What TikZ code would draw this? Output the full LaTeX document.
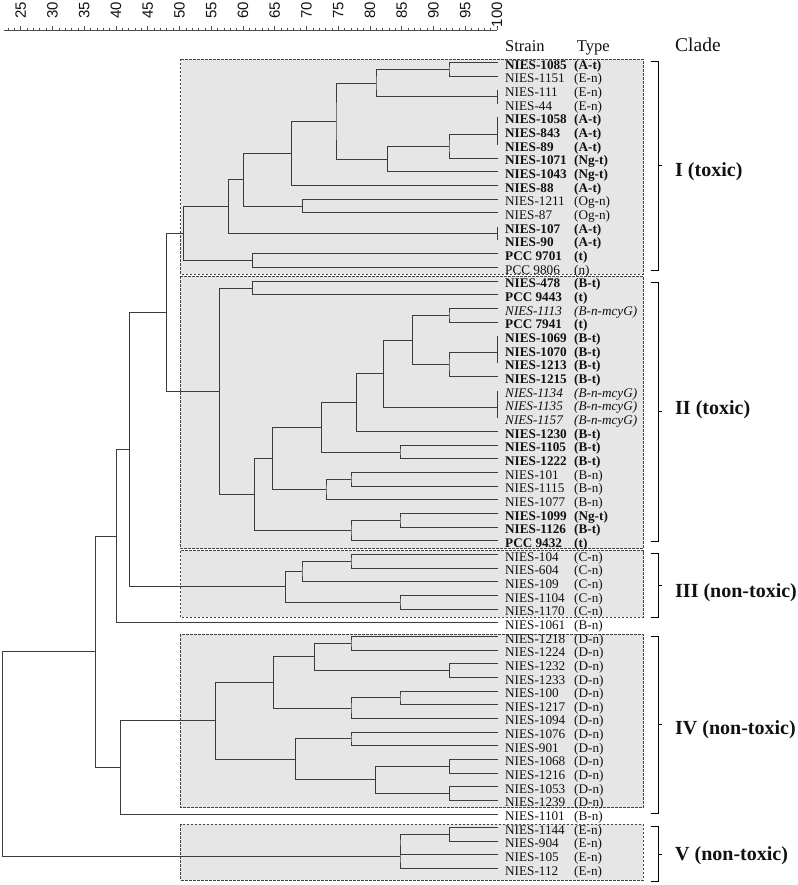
\documentclass[tikz,border=0pt]{standalone}
\usepackage{fontspec}
\setmainfont{Liberation Serif}
\newfontfamily\axfont{Liberation Sans}
\usetikzlibrary{calc}
\definecolor{boxgray}{HTML}{E6E6E6}
\definecolor{treecol}{HTML}{3C3C3C}
\definecolor{dashcol}{HTML}{444444}
\definecolor{txtcol}{HTML}{111111}
\newcommand\lfs{\fontsize{13.2}{15}\selectfont}
\tikzset{
  tree/.style={draw=treecol, line width=1pt},
  cladebox/.style={fill=boxgray, draw=dashcol, line width=0.8pt, dash pattern=on 2.5pt off 1.5pt},
  lab/.style={anchor=base west, inner sep=0pt, text=txtcol, font=\lfs},
  toxlab/.style={lab, font=\lfs\bfseries},
  ntlab/.style={lab},
  mcylab/.style={lab, font=\lfs\itshape},
  head/.style={anchor=base west, inner sep=0pt, text=txtcol, font=\fontsize{16.5}{18}\selectfont},
  cladelab/.style={anchor=west, inner sep=0pt, text=txtcol, font=\fontsize{20}{22}\selectfont\bfseries},
  brk/.style={draw=black, line width=1pt},
  axlab/.style={inner sep=0pt, rotate=90, anchor=east, text=txtcol, font=\axfont\fontsize{15}{15}\selectfont},
  axline/.style={draw=black!70, line width=0.6pt},
}
\newcommand\leaf[4]{%
  \coordinate (l#1) at (497.7,{62.7+13.66*#1});
  \node[#4] (s#1) at (505,{69.3+13.66*#1}) {#2};
  \node[#4] (t#1) at (574,{69.3+13.66*#1}) {#3};
}
\newcommand\mrg[4]{%
  \coordinate (#1h) at ($(#3)!0.5!(#4)$);
  \coordinate (#1x) at (#2,0);
  \coordinate (#1) at (#1x |- #1h);
  \draw[tree] (#3) -| (#1) |- (#4);
}
\begin{document}
\begin{tikzpicture}[x=1pt,y=-1pt]
\useasboundingbox (0,0) rectangle (797,885);
% clade boxes
\path[cladebox] (180.7,59) rectangle (643.3,274);
\path[cladebox] (180.7,276) rectangle (643.3,548.5);
\path[cladebox] (180.7,550.5) rectangle (643.3,617.3);
\path[cladebox] (180.7,634.3) rectangle (643.3,807.7);
\path[cladebox] (180.7,824.3) rectangle (643.3,880);
% scale
\draw[axline] (3.5,30) -- (497,30);
\foreach \v in {23,...,100} \draw[axline] ({20.7+(\v-25)*6.35},30) -- ++(0,-2);
\foreach \v in {25,30,...,100} {
  \draw[axline] ({20.7+(\v-25)*6.35},30) -- ++(0,-4);
  \node[axlab] at ({20.7+(\v-25)*6.35},2) {\v};
}
% headers
\node[head] (hs) at (505,51.5) {Strain};
\node[head] (ht) at (576.7,51.5) {Type};
\node[head, font=\fontsize{19.5}{21}\selectfont] (hc) at (675,51.5) {Clade};
% leaves
\leaf{0}{NIES-1085}{(A-t)}{toxlab}
\leaf{1}{NIES-1151}{(E-n)}{ntlab}
\leaf{2}{NIES-111}{(E-n)}{ntlab}
\leaf{3}{NIES-44}{(E-n)}{ntlab}
\leaf{4}{NIES-1058}{(A-t)}{toxlab}
\leaf{5}{NIES-843}{(A-t)}{toxlab}
\leaf{6}{NIES-89}{(A-t)}{toxlab}
\leaf{7}{NIES-1071}{(Ng-t)}{toxlab}
\leaf{8}{NIES-1043}{(Ng-t)}{toxlab}
\leaf{9}{NIES-88}{(A-t)}{toxlab}
\leaf{10}{NIES-1211}{(Og-n)}{ntlab}
\leaf{11}{NIES-87}{(Og-n)}{ntlab}
\leaf{12}{NIES-107}{(A-t)}{toxlab}
\leaf{13}{NIES-90}{(A-t)}{toxlab}
\leaf{14}{PCC 9701}{(t)}{toxlab}
\leaf{15}{PCC 9806}{(n)}{ntlab}
\leaf{16}{NIES-478}{(B-t)}{toxlab}
\leaf{17}{PCC 9443}{(t)}{toxlab}
\leaf{18}{NIES-1113}{(B-n-mcyG)}{mcylab}
\leaf{19}{PCC 7941}{(t)}{toxlab}
\leaf{20}{NIES-1069}{(B-t)}{toxlab}
\leaf{21}{NIES-1070}{(B-t)}{toxlab}
\leaf{22}{NIES-1213}{(B-t)}{toxlab}
\leaf{23}{NIES-1215}{(B-t)}{toxlab}
\leaf{24}{NIES-1134}{(B-n-mcyG)}{mcylab}
\leaf{25}{NIES-1135}{(B-n-mcyG)}{mcylab}
\leaf{26}{NIES-1157}{(B-n-mcyG)}{mcylab}
\leaf{27}{NIES-1230}{(B-t)}{toxlab}
\leaf{28}{NIES-1105}{(B-t)}{toxlab}
\leaf{29}{NIES-1222}{(B-t)}{toxlab}
\leaf{30}{NIES-101}{(B-n)}{ntlab}
\leaf{31}{NIES-1115}{(B-n)}{ntlab}
\leaf{32}{NIES-1077}{(B-n)}{ntlab}
\leaf{33}{NIES-1099}{(Ng-t)}{toxlab}
\leaf{34}{NIES-1126}{(B-t)}{toxlab}
\leaf{35}{PCC 9432}{(t)}{toxlab}
\leaf{36}{NIES-104}{(C-n)}{ntlab}
\leaf{37}{NIES-604}{(C-n)}{ntlab}
\leaf{38}{NIES-109}{(C-n)}{ntlab}
\leaf{39}{NIES-1104}{(C-n)}{ntlab}
\leaf{40}{NIES-1170}{(C-n)}{ntlab}
\leaf{41}{NIES-1061}{(B-n)}{ntlab}
\leaf{42}{NIES-1218}{(D-n)}{ntlab}
\leaf{43}{NIES-1224}{(D-n)}{ntlab}
\leaf{44}{NIES-1232}{(D-n)}{ntlab}
\leaf{45}{NIES-1233}{(D-n)}{ntlab}
\leaf{46}{NIES-100}{(D-n)}{ntlab}
\leaf{47}{NIES-1217}{(D-n)}{ntlab}
\leaf{48}{NIES-1094}{(D-n)}{ntlab}
\leaf{49}{NIES-1076}{(D-n)}{ntlab}
\leaf{50}{NIES-901}{(D-n)}{ntlab}
\leaf{51}{NIES-1068}{(D-n)}{ntlab}
\leaf{52}{NIES-1216}{(D-n)}{ntlab}
\leaf{53}{NIES-1053}{(D-n)}{ntlab}
\leaf{54}{NIES-1239}{(D-n)}{ntlab}
\leaf{55}{NIES-1101}{(B-n)}{ntlab}
\leaf{56}{NIES-1144}{(E-n)}{ntlab}
\leaf{57}{NIES-904}{(E-n)}{ntlab}
\leaf{58}{NIES-105}{(E-n)}{ntlab}
\leaf{59}{NIES-112}{(E-n)}{ntlab}
% clade I
\mrg{a1}{449}{l0}{l1}
\mrg{a2}{497.7}{l2}{l3}
\mrg{a3}{376}{a1}{a2}
\mrg{a4}{497.7}{l4}{l5}
\mrg{a5}{497.7}{a4}{l6}
\mrg{a6}{449}{a5}{l7}
\mrg{a7}{387.7}{a6}{l8}
\mrg{a8}{336}{a3}{a7}
\mrg{a9}{291.3}{a8}{l9}
\mrg{a10}{302.3}{l10}{l11}
\mrg{a11}{243.3}{a9}{a10}
\mrg{a12}{497.7}{l12}{l13}
\mrg{a13}{228.3}{a11}{a12}
\mrg{a14}{252.7}{l14}{l15}
\mrg{cI}{183.3}{a13}{a14}
% clade II
\mrg{b1}{252.7}{l16}{l17}
\mrg{b2}{449}{l18}{l19}
\mrg{b3}{497.7}{l20}{l21}
\mrg{b4}{497.7}{b3}{l22}
\mrg{b5}{449}{b4}{l23}
\mrg{b6}{412.7}{b2}{b5}
\mrg{b7}{497.7}{l24}{l25}
\mrg{b8}{497.7}{b7}{l26}
\mrg{b9}{383.3}{b6}{b8}
\mrg{b10}{356.7}{b9}{l27}
\mrg{b11}{400}{l28}{l29}
\mrg{b12}{321.3}{b10}{b11}
\mrg{b13}{351}{l30}{l31}
\mrg{b14}{326}{b13}{l32}
\mrg{b15}{272.3}{b12}{b14}
\mrg{b16}{400}{l33}{l34}
\mrg{b17}{351}{b16}{l35}
\mrg{b18}{254.3}{b15}{b17}
\mrg{cII}{219.3}{b1}{b18}
\mrg{d1}{166.7}{cI}{cII}
% clade III
\mrg{c1}{351}{l36}{l37}
\mrg{c2}{302}{c1}{l38}
\mrg{c3}{400}{l39}{l40}
\mrg{cIII}{285.7}{c2}{c3}
\mrg{d2}{129.3}{d1}{cIII}
\mrg{d3}{116.7}{d2}{l41}
% clade IV
\mrg{e1}{351}{l42}{l43}
\mrg{e2}{449.3}{l44}{l45}
\mrg{e3}{314.3}{e1}{e2}
\mrg{e4}{400}{l46}{l47}
\mrg{e5}{351}{e4}{l48}
\mrg{e6}{273.3}{e3}{e5}
\mrg{e7}{351}{l49}{l50}
\mrg{e8}{449.3}{l51}{l52}
\mrg{e9}{449.3}{l53}{l54}
\mrg{e10}{375.7}{e8}{e9}
\mrg{e11}{295.7}{e7}{e10}
\mrg{cIV}{215.7}{e6}{e11}
\mrg{d4}{120.7}{cIV}{l55}
\mrg{d5}{95.7}{d3}{d4}
% clade V
\mrg{f1}{449.3}{l56}{l57}
\mrg{f2}{400}{f1}{l58}
\mrg{cV}{400}{f2}{l59}
\mrg{root}{2.7}{d5}{cV}
% brackets and clade labels
\draw[brk] (651,62) -- (658,62) -- (658,270) -- (651,270) (658,166) -- (662,166);
\node[cladelab] (k1) at (675,172) {I (toxic)};
\draw[brk] (651,282) -- (658,282) -- (658,541.7) -- (651,541.7) (658,411.8) -- (662,411.8);
\node[cladelab] (k2) at (675,410) {II (toxic)};
\draw[brk] (651,553.3) -- (658,553.3) -- (658,617.3) -- (651,617.3) (658,585.3) -- (662,585.3);
\node[cladelab] (k3) at (675,593) {III (non-toxic)};
\draw[brk] (651,636) -- (658,636) -- (658,813.3) -- (651,813.3) (658,724.7) -- (662,724.7);
\node[cladelab] (k4) at (675,730) {IV (non-toxic)};
\draw[brk] (651,826.7) -- (658,826.7) -- (658,881.7) -- (651,881.7) (658,854.2) -- (662,854.2);
\node[cladelab] (k5) at (675,856) {V (non-toxic)};
\end{tikzpicture}
\end{document}
